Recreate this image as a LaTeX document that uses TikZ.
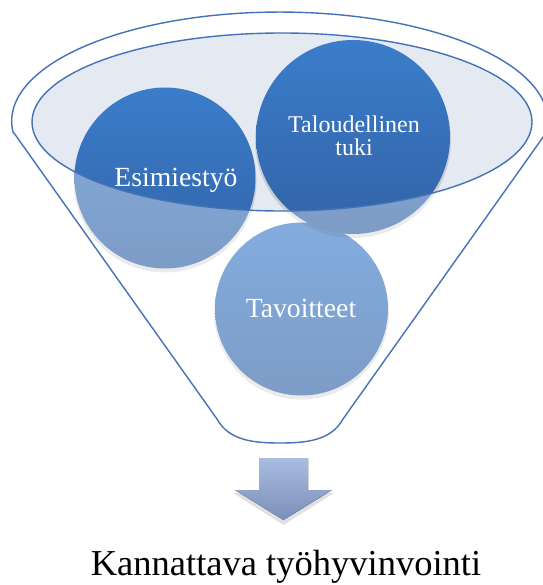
\documentclass[tikz,border=0pt]{standalone}
\usepackage{fontspec}
\setmainfont{Liberation Serif}
\definecolor{funnelline}{HTML}{4472B6}
\definecolor{ellfill}{HTML}{E4E9F2}
\definecolor{ctop}{HTML}{3B7DCB}
\definecolor{cbot}{HTML}{3263A6}
\definecolor{atop}{HTML}{A9BDE1}
\definecolor{abot}{HTML}{7A8EB8}
\begin{document}
\begin{tikzpicture}[x=1pt,y=-1pt,
  ball/.style={circle, inner sep=0pt, minimum size=#1, shade, top color=ctop, bottom color=cbot, draw=none},
  ballshadow/.style={circle, inner sep=0pt, minimum size=#1, fill=black, fill opacity=0.12, draw=none},
  balltext/.style={text=white, font=\fontsize{27.7}{30}\selectfont, anchor=base, inner sep=0pt},
  funnel/.style={draw=funnelline, line width=1.4pt, fill=white, fill opacity=0.37, even odd rule}]
\useasboundingbox (0,0) rectangle (542,585);
% opening of the funnel
\fill[ellfill] (282,122) ellipse [x radius=250pt, y radius=89pt];
% balls
\node[ballshadow=175pt] (tavsh) at (301.5,312) {};
\node[ball=173pt] (tav) at (301.5,309) {};
\node[ballshadow=183pt] (esish) at (165,181) {};
\node[ball=181pt] (esi) at (165,178) {};
\node[ballshadow=196pt] (talsh) at (353,140) {};
\node[ball=194pt] (tal) at (353,137) {};
% funnel body with the opening cut out
\path[funnel] (14,133) -- (217,419)
  .. controls (229,441) and (255,443) .. (280,443)
  .. controls (305,443) and (331,441) .. (343,419)
  -- (546,133)
  arc[start angle=-6.3, end angle=186.3, x radius=268pt, y radius=109pt]
  -- cycle
  (282,122) ellipse [x radius=250pt, y radius=89pt];
% texts
\node[balltext] (tEsi) at (176,186) {Esimiestyö};
\node[text=white, font=\fontsize{24}{23}\selectfont, align=center, inner sep=0pt] (tTal) at (354,136) {Taloudellinen\\tuki};
\node[balltext] (tTav) at (301,317) {Tavoitteet};
% down arrow
\fill[black, opacity=0.12] (259,461) -- (308,461) -- (308,493) -- (334,493) -- (283.5,525) -- (233,493) -- (259,493) -- cycle;
\fill[top color=atop, bottom color=abot] (259,458) -- (308,458) -- (308,490) -- (332,490) -- (283.5,520) -- (235,490) -- (259,490) -- cycle;
\node[font=\fontsize{36.5}{40}\selectfont, anchor=base, inner sep=0pt] (result) at (286,575) {Kannattava työhyvinvointi};
\end{tikzpicture}
\end{document}
